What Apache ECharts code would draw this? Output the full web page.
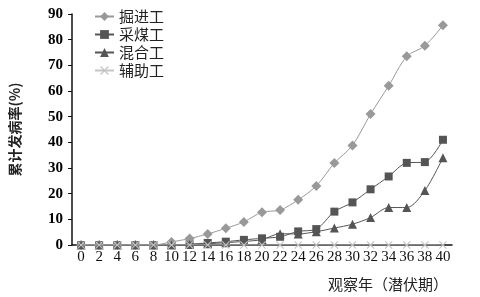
<!DOCTYPE html>
<html><head><meta charset="utf-8">
<script src="https://cdn.jsdelivr.net/npm/echarts@6/dist/echarts.min.js"></script>
<style>html,body{margin:0;padding:0;background:#fff}#c{width:480px;height:297px}</style>
</head><body><div id="c"></div>
<script>
const categories = ['0','2','4','6','8','10','12','14','16','18','20','22','24','26','28','30','32','34','36','38','40'];
const jueJin = [0,0,0,0,0,1.2,2.5,4.3,6.5,9,12.8,13.6,17.6,23,31.9,38.8,51,62,73.5,77.6,85.6];
const caiMei = [0,0,0,0,0,0,0.3,0.8,1.3,2.0,2.6,3.2,5.3,6.2,13,16.6,21.7,26.7,32,32.3,41];
const hunHe = [0,0,0,0,0,0,0.2,0.5,0.9,1.4,2.1,4.4,4.3,5.2,6.6,8.1,10.7,14.6,14.6,21.2,34];
const fuZhu = [0,0,0,0,0,0,0,0,0,0,0,0,0,0,0,0,0,0,0,0,0];
const names = ['掘进工','采煤工','混合工','辅助工'];
const yTicks = {min:0, max:90, interval:10};

const xMark = 'path://M0,1L1,0L5,4L9,0L10,1L6,5L10,9L9,10L5,6L1,10L0,9L4,5Z';
const serif = '"Liberation Serif","DejaVu Serif",serif';
const cjk = '"Noto Sans CJK SC","Noto Sans",sans-serif';

function ser(name, data, color, symbol, size, z){
  return {name, type:'line', data, smooth:0.3, symbol, symbolSize:size, z,
    lineStyle:{color, width:1}, itemStyle:{color}, emphasis:{disabled:true}};
}
const chart = echarts.init(document.getElementById('c'));
chart.setOption({
  animation:false,
  backgroundColor:'#fff',
  grid:{left:70, right:28, top:14, bottom:52},
  legend:{orient:'vertical', left:89, top:4, itemWidth:19, itemHeight:11, itemGap:3,
    textStyle:{fontFamily:cjk, fontSize:15, color:'#222'}, data:names},
  title:{text:'观察年（潜伏期）', left:323, top:272,
    textStyle:{fontFamily:cjk, fontSize:15, fontWeight:'normal', color:'#222'}},
  xAxis:{type:'category', data:categories, boundaryGap:true,
    axisLine:{lineStyle:{color:'#111', width:1.5}},
    axisTick:{inside:true, length:5, lineStyle:{color:'#111'}},
    axisLabel:{fontFamily:serif, fontSize:15, color:'#111', margin:5, interval:0}},
  yAxis:{type:'value', min:yTicks.min, max:yTicks.max, interval:yTicks.interval,
    name:'累计发病率(%)', nameLocation:'middle', nameGap:50, nameRotate:90,
    nameTextStyle:{fontFamily:cjk, fontSize:14, color:'#222', fontWeight:'bold'},
    splitLine:{show:false},
    axisLine:{show:true, lineStyle:{color:'#111', width:1.5}},
    axisTick:{show:true, length:4, lineStyle:{color:'#111'}},
    axisLabel:{fontFamily:serif, fontSize:15, fontWeight:'bold', color:'#000', margin:9}},
  series:[
    ser(names[0], jueJin, '#999', 'diamond', 10, 4),
    ser(names[1], caiMei, '#555', 'rect', 8, 3),
    ser(names[2], hunHe, '#555', 'triangle', 9, 5),
    ser(names[3], fuZhu, '#c4c4c4', xMark, 8, 6)
  ]
});
</script></body></html>
